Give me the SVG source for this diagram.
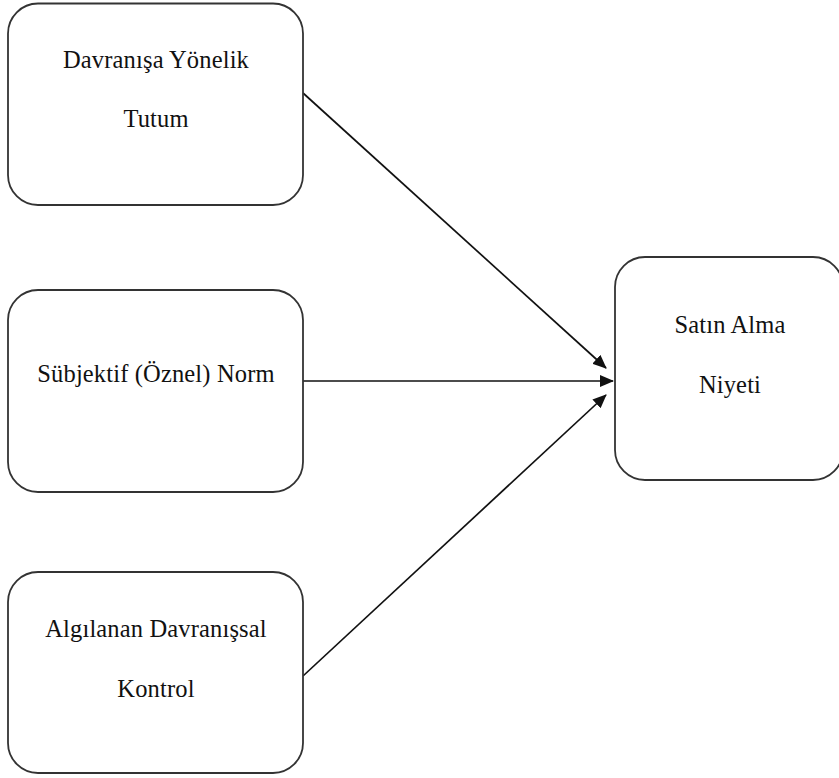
<svg xmlns="http://www.w3.org/2000/svg" width="839" height="778" viewBox="0 0 839 778">
<style>
.box{fill:#fff;stroke:#333;stroke-width:1.8}
.lbl{font-family:"Liberation Serif","Times New Roman",serif;font-size:24.5px;letter-spacing:0.15px;fill:#111;text-anchor:middle}
.edge{stroke:#111;stroke-width:1.7;fill:none;marker-end:url(#ah)}
</style>
<defs>
<marker id="ah" markerWidth="14" markerHeight="12" refX="13" refY="6" orient="auto" markerUnits="userSpaceOnUse">
<path d="M0,0 L14,6 L0,12 Z" fill="#111"/>
</marker>
</defs>
<rect width="839" height="778" fill="#fff"/>
<g id="connectors">
<line class="edge" x1="303" y1="93" x2="606" y2="368"/>
<line class="edge" x1="303" y1="381" x2="613" y2="381"/>
<line class="edge" x1="303" y1="676" x2="606" y2="395"/>
</g>
<g id="n1">
<rect class="box" x="8" y="3.5" width="295" height="201.5" rx="30" ry="30"/>
<text class="lbl" x="156" y="68">Davranışa Yönelik</text>
<text class="lbl" x="156" y="127">Tutum</text>
</g>
<g id="n2">
<rect class="box" x="8" y="290" width="295" height="202" rx="30" ry="30"/>
<text class="lbl" x="156" y="382">Sübjektif (Öznel) Norm</text>
</g>
<g id="n3">
<rect class="box" x="8" y="572" width="295" height="201" rx="30" ry="30"/>
<text class="lbl" x="156" y="637">Algılanan Davranışsal</text>
<text class="lbl" x="156" y="697">Kontrol</text>
</g>
<g id="n4">
<rect class="box" x="615" y="257" width="228" height="223" rx="30" ry="30"/>
<text class="lbl" x="730" y="333">Satın Alma</text>
<text class="lbl" x="730" y="393">Niyeti</text>
</g>
</svg>
